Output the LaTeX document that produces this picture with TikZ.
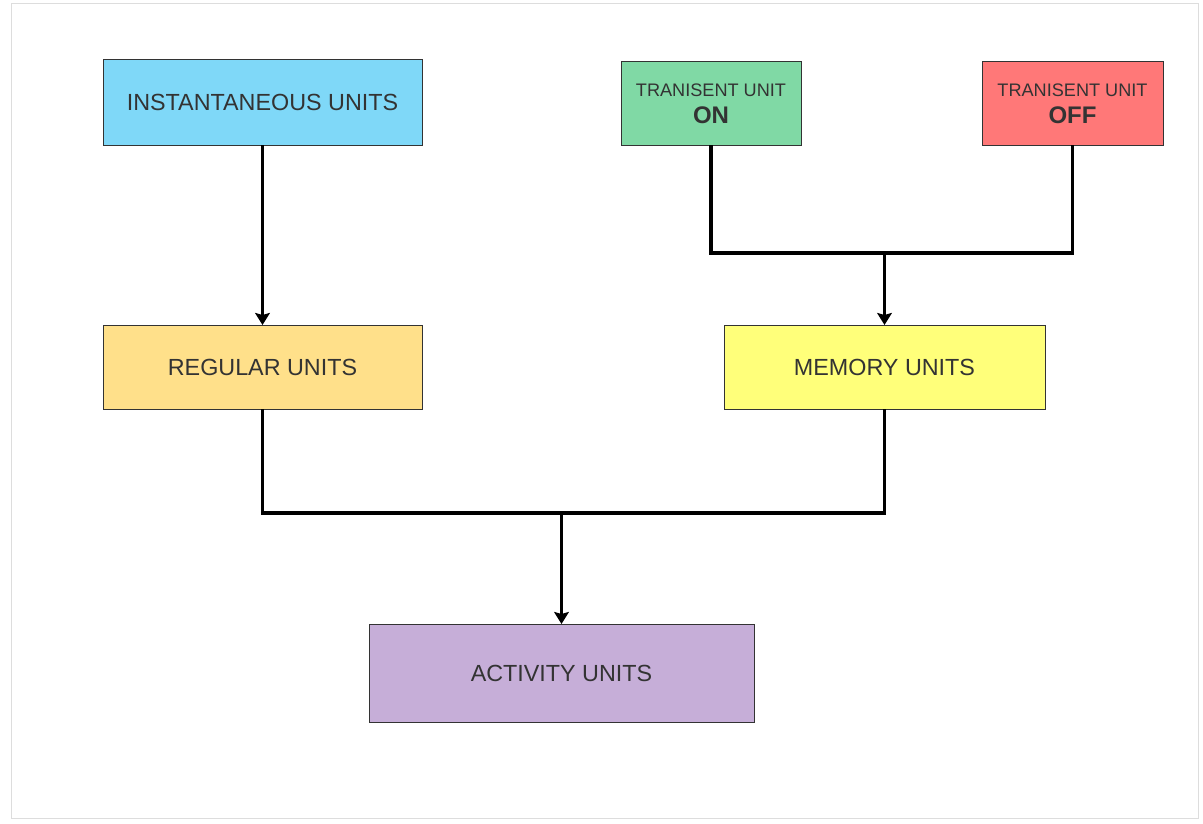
\documentclass[tikz,border=0pt]{standalone}
\usepackage{fontspec}
\setmainfont{Liberation Sans}
\usepackage{tikz}
\usetikzlibrary{positioning, arrows.meta, calc}
\definecolor{instblue}{HTML}{7FD8F8}
\definecolor{ongreen}{HTML}{80D9A5}
\definecolor{offred}{HTML}{FF7878}
\definecolor{regyellow}{HTML}{FFE08A}
\definecolor{memyellow}{HTML}{FFFF7A}
\definecolor{actpurple}{HTML}{C6AED8}
\definecolor{textgrey}{HTML}{333333}
\definecolor{framegrey}{HTML}{DDDDDD}

\tikzset{
  unit/.style={draw=textgrey, line width=0.75pt, inner sep=0pt, outer sep=0pt,
    text=textgrey, align=center, font=\fontsize{17.5}{21}\selectfont},
  conn/.style={line width=2.6pt, black},
  arrow/.style={conn, -{Stealth[length=9pt, width=11pt, inset=1.5pt]}}
}

\begin{document}
\begin{tikzpicture}[x=0.75pt, y=-0.75pt]
				\useasboundingbox (0,0) rectangle (1203,824);
				\draw[framegrey, line width=0.75pt] (11,4) rectangle (1198,818);
				
				% top row
				\node[unit, fill=instblue, minimum width=239.25pt, minimum height=63.75pt] (inst) at (262.5,102.5) {INSTANTANEOUS UNITS};
				\node[unit, fill=ongreen, minimum width=135pt, minimum height=62.25pt] (ton) at (711,103.5)
					{{\fontsize{13.6}{16}\selectfont TRANISENT UNIT}\\[-0.75pt]{\fontsize{18}{21}\selectfont\bfseries ON}};
				\node[unit, fill=offred, minimum width=135.75pt, minimum height=62.25pt] (toff) at (1072.5,103.5)
					{{\fontsize{13.6}{16}\selectfont TRANISENT UNIT}\\[-0.75pt]{\fontsize{18}{21}\selectfont\bfseries OFF}};
				
				% middle row
				\node[unit, fill=regyellow, minimum width=239.25pt, minimum height=63pt] (reg) at (262.5,367) {REGULAR UNITS};
				\node[unit, fill=memyellow, minimum width=240.75pt, minimum height=63pt] (mem) at (884.5,367) {MEMORY UNITS};
				
				% bottom
				\node[unit, fill=actpurple, minimum width=288.75pt, minimum height=73.5pt] (act) at (561.5,673) {ACTIVITY UNITS};
				
				\coordinate (jtop) at (884.5,253);
				\coordinate (jbot) at (561.5,513);
				
				\draw[arrow] (inst) -- (reg);
				\draw[conn] (ton) |- (jtop) -| (toff);
				\draw[arrow] (jtop) -- (mem);
				\draw[conn] (reg) |- (jbot) -| (mem);
				\draw[arrow] (jbot) -- (act);
\end{tikzpicture}
\end{document}
